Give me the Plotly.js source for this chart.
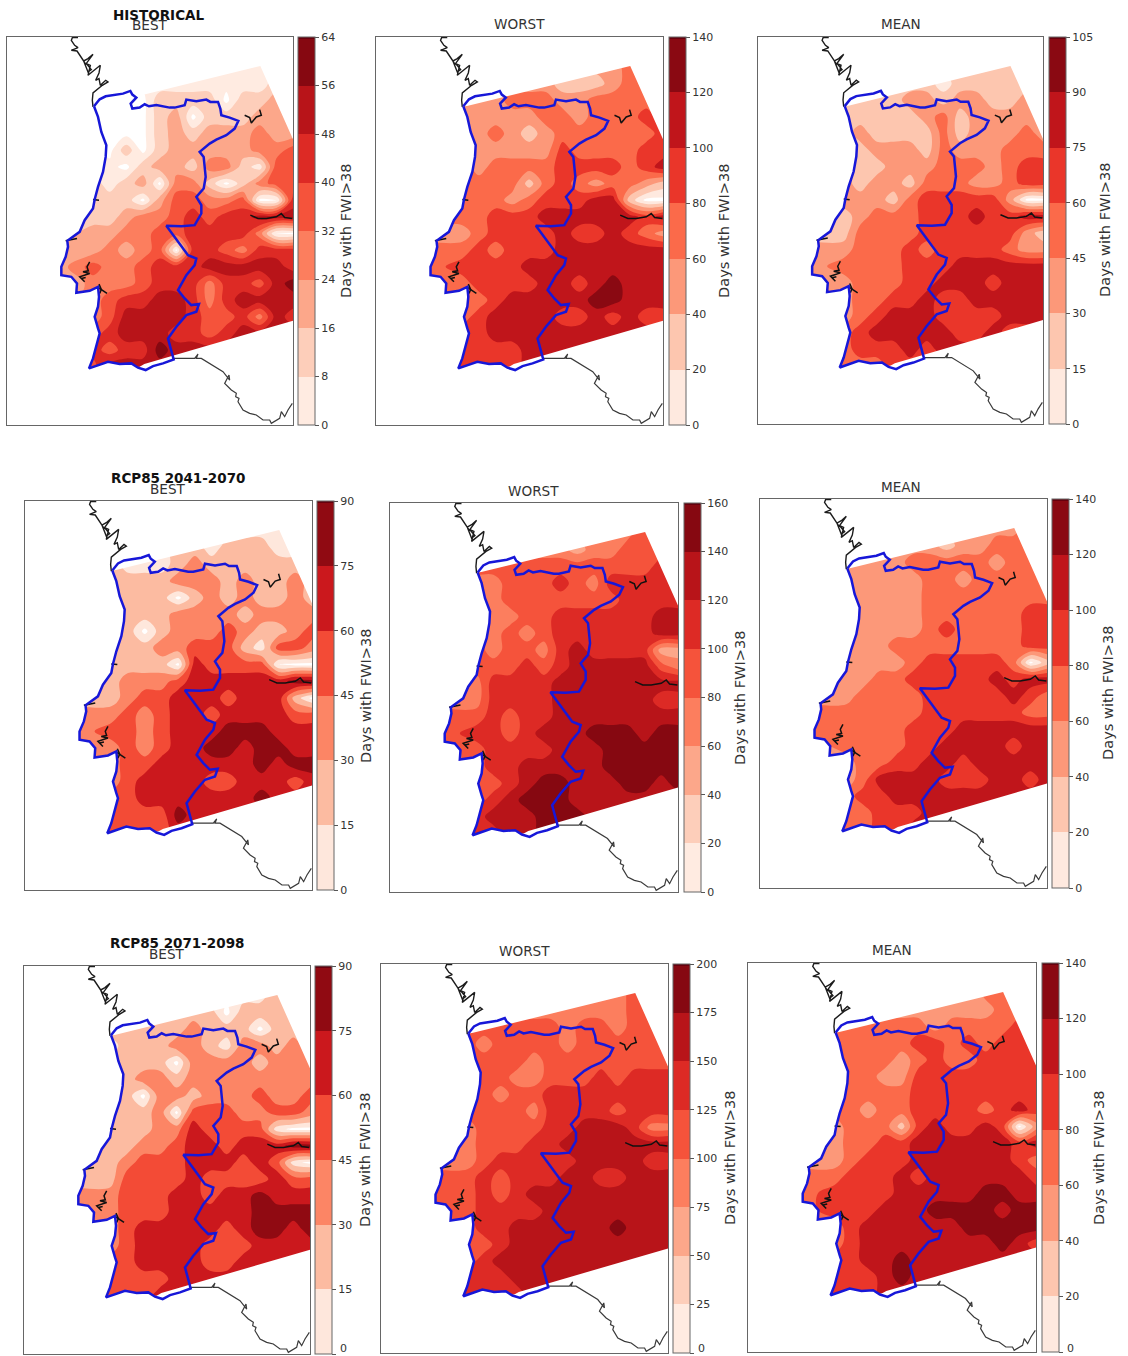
<!DOCTYPE html>
<html><head><meta charset="utf-8">
<script src="https://cdn.plot.ly/plotly-3.0.1.min.js"></script>
<style>html,body{margin:0;padding:0;background:#fff;overflow:hidden}#c{width:1128px;height:1356px}</style></head>
<body><div id="c"></div>
<script>
// map grid (map units)
const xGrid=[180,280,330,380,430,480,530,580,630,680,730,780,830,880];
const yGrid=[190,250,300,350,400,450,500,550,600,650,700,750,800,850,900,950,1000,1050,1100];

const histBest=[
[4,4,4,4,4,4,4,4,4,4,4,4,12,12],
[4,4,4,4,4,4,4,4,4,4,4,4,12,12],
[0,0,0,0,0,12,12,12,12,0,12,12,20,20],
[0,0,0,0,0,12,20,0,12,12,12,20,20,20],
[0,0,0,0,0,12,20,12,20,20,20,28,20,20],
[4,4,0,12,0,12,20,20,20,20,20,28,28,36],
[4,4,4,0,12,20,20,12,28,28,12,4,36,36],
[12,12,4,12,20,0,28,28,12,0,12,28,36,36],
[12,12,12,12,0,20,36,36,28,28,36,0,0,44],
[12,12,12,20,28,28,36,44,36,44,44,52,52,52],
[12,20,20,28,28,36,36,44,44,44,44,28,0,0],
[20,20,28,20,28,36,0,44,44,36,28,44,44,44],
[20,36,28,28,36,44,44,44,52,52,52,52,52,44],
[12,28,28,28,36,44,44,44,28,44,44,36,52,60],
[20,28,36,44,44,52,52,44,28,44,52,52,52,52],
[28,28,36,52,52,52,52,44,36,36,44,28,52,44],
[28,36,44,52,52,52,44,44,36,44,52,52,52,52],
[36,44,36,44,44,60,52,52,52,52,52,52,52,52],
[36,36,52,52,52,52,52,52,52,52,52,52,52,52]];
const histWorst=[
[50,50,50,50,50,50,50,50,50,50,50,70,70,70],
[50,50,50,50,50,50,50,30,30,30,50,70,70,70],
[50,50,50,50,70,70,70,50,50,70,70,70,70,70],
[50,50,50,50,50,50,70,70,50,70,70,70,90,70],
[50,50,50,70,50,30,50,70,70,70,70,70,70,90],
[50,50,50,50,50,50,50,90,70,70,70,70,90,90],
[50,70,50,70,70,70,70,90,90,90,90,70,90,110],
[70,70,70,70,70,30,70,90,70,50,70,70,50,30],
[70,70,70,70,50,70,90,90,90,110,110,30,0,0],
[70,70,70,90,90,90,110,110,110,110,110,110,90,110],
[50,50,70,90,90,90,90,110,90,90,110,90,70,50],
[70,70,90,70,90,90,90,110,110,110,110,110,110,110],
[70,90,90,90,90,110,110,110,110,110,110,110,110,110],
[50,70,90,90,90,90,110,110,90,110,130,110,110,110],
[70,70,70,90,110,110,110,110,110,130,130,110,110,110],
[70,70,90,110,110,110,110,90,90,110,90,110,90,90],
[70,90,90,110,110,110,110,110,110,110,110,110,110,110],
[70,90,90,90,90,110,110,110,110,110,110,110,110,110],
[70,90,90,90,90,110,110,110,110,110,110,110,110,110]];
const histMean=[
[22,22,22,22,22,22,22,22,22,22,22,22,22,22],
[22,22,22,22,22,22,22,8,22,22,22,22,22,22],
[22,22,22,22,22,38,38,22,38,38,22,22,38,38],
[22,22,22,22,22,22,38,52,22,38,38,38,38,38],
[22,22,38,22,22,22,22,52,22,38,38,38,52,38],
[22,22,22,38,38,38,22,52,38,38,38,52,52,52],
[22,38,22,22,38,38,38,52,52,52,38,52,68,68],
[22,38,22,38,38,22,52,52,52,38,38,52,68,68],
[22,38,38,38,22,52,68,68,68,68,68,38,0,0],
[22,22,38,52,52,52,68,68,68,82,68,68,82,82],
[22,22,52,52,52,52,68,68,68,68,68,68,38,22],
[38,38,52,52,52,68,52,68,68,68,68,52,38,38],
[38,52,52,52,52,68,68,68,82,82,82,82,82,82],
[22,38,52,52,52,68,68,82,82,82,68,82,82,82],
[38,38,52,52,68,68,82,68,68,82,82,82,82,82],
[38,38,52,68,82,82,82,68,68,68,68,82,82,82],
[52,52,68,82,82,82,82,82,68,68,82,68,68,68],
[52,52,68,68,68,82,68,82,82,82,82,82,82,82],
[52,52,52,52,68,68,68,68,68,82,82,82,82,82]];

const rcp41Best=[
[8,8,8,8,8,8,8,8,8,8,8,8,8,22],
[8,8,8,8,8,22,22,8,22,22,22,8,8,22],
[22,22,8,8,8,22,38,22,22,22,22,22,22,22],
[22,22,22,22,22,38,38,38,22,38,22,22,38,22],
[22,22,22,22,22,0,22,38,22,38,22,22,38,22],
[22,22,22,22,22,38,38,38,38,22,38,38,38,38],
[22,22,22,0,22,38,38,38,52,38,22,22,38,52],
[22,22,22,22,38,38,52,52,52,22,8,52,52,38],
[22,22,22,22,22,0,68,52,52,52,52,0,0,0],
[22,22,38,38,38,52,68,68,68,68,68,68,82,82],
[22,22,38,52,52,68,68,68,52,68,68,68,22,0],
[38,38,52,38,52,68,68,52,68,68,68,68,52,52],
[38,52,52,38,52,68,68,68,82,82,82,68,68,68],
[22,38,52,38,52,68,68,82,82,68,82,82,68,68],
[38,38,52,52,68,68,68,68,68,68,82,68,82,82],
[38,38,52,68,68,68,68,52,52,68,68,68,52,68],
[52,52,52,68,68,68,68,68,68,68,82,68,68,68],
[52,52,52,52,52,82,68,68,68,68,68,68,68,68],
[52,52,52,52,52,68,68,68,68,68,68,68,68,68]];
const rcp41Worst=[
[70,70,70,70,70,70,70,70,70,70,70,90,90,90],
[70,70,70,70,70,70,70,50,70,70,90,90,90,90],
[90,90,90,90,90,90,90,90,90,90,90,90,110,110],
[70,70,70,90,90,90,110,90,70,110,110,110,110,110],
[70,70,70,90,90,90,90,90,90,90,110,110,110,110],
[70,70,70,70,90,90,110,110,110,110,110,110,130,130],
[70,90,70,90,70,90,110,110,110,110,110,110,130,130],
[90,90,70,90,90,70,110,130,110,110,110,110,50,50],
[90,90,90,90,110,90,110,130,130,130,130,130,90,70],
[70,70,110,110,110,110,130,130,130,130,130,130,130,130],
[70,70,110,110,110,110,130,130,130,130,130,130,110,110],
[90,90,110,90,110,110,130,130,130,130,130,130,130,130],
[90,110,110,90,110,130,130,130,150,150,150,130,150,150],
[70,90,110,110,110,110,130,130,130,150,150,150,150,150],
[70,90,110,110,130,130,130,130,130,150,150,150,150,150],
[90,90,90,110,130,150,150,130,130,130,150,150,130,150],
[90,90,110,130,150,150,150,130,130,130,130,130,130,130],
[110,110,130,130,130,150,150,150,130,130,130,130,130,130],
[110,110,110,130,130,150,150,130,130,130,130,130,130,130]];
const rcp41Mean=[
[50,50,50,50,50,50,50,50,50,30,50,50,70,70],
[50,50,50,50,50,50,50,30,50,50,70,70,70,70],
[50,50,50,50,50,70,70,70,70,70,50,70,70,70],
[50,50,50,50,50,50,70,70,50,70,70,70,70,70],
[50,50,50,50,50,50,70,70,70,70,70,70,70,70],
[50,50,50,50,50,50,70,70,70,70,70,70,90,90],
[50,50,50,50,50,50,70,90,70,70,70,70,90,90],
[50,50,50,50,70,70,70,70,70,70,70,70,90,90],
[50,50,50,50,50,70,90,90,90,90,90,70,0,30],
[50,50,50,70,70,90,90,90,90,90,110,90,110,110],
[50,50,70,70,70,70,90,90,90,90,90,110,90,70],
[70,70,70,70,70,70,90,90,90,90,90,90,70,70],
[70,70,70,70,70,90,90,90,110,110,110,110,110,110],
[50,70,70,70,70,90,90,110,110,110,110,90,110,110],
[50,50,70,70,90,90,110,110,90,110,110,110,110,110],
[50,50,70,110,110,110,110,90,90,90,110,110,90,110],
[70,70,90,90,110,110,110,110,110,110,110,110,110,110],
[70,70,70,90,90,90,110,110,110,110,110,110,110,110],
[70,70,70,90,90,110,110,110,110,110,110,110,110,110]];

const rcp71Best=[
[8,8,8,8,8,8,8,8,8,8,8,22,22,22],
[8,8,8,8,8,22,22,22,0,22,22,22,22,22],
[22,22,22,22,22,22,38,22,22,22,0,22,22,22],
[8,8,22,22,22,38,38,22,8,38,38,22,38,22],
[22,22,22,22,22,0,38,38,38,38,22,38,38,38],
[22,22,22,38,38,22,38,38,38,38,38,38,38,38],
[22,22,22,0,38,38,22,38,38,38,52,38,38,52],
[22,22,22,22,38,0,52,52,52,38,38,52,52,38],
[22,22,22,22,38,38,68,52,52,52,52,8,0,0],
[22,22,22,38,38,52,68,68,52,68,68,68,82,82],
[22,22,38,52,52,52,68,68,68,52,68,52,8,0],
[22,22,52,52,52,52,68,52,52,52,52,68,52,52],
[38,38,52,52,52,68,68,52,68,68,82,68,68,68],
[38,38,52,52,52,68,68,68,68,68,82,82,82,82],
[38,38,52,68,68,68,68,68,52,68,82,82,68,82],
[38,38,52,68,68,68,68,52,52,52,68,68,68,68],
[52,52,52,68,68,68,68,52,52,68,68,68,68,68],
[52,52,52,52,52,68,68,68,68,68,68,68,68,68],
[52,52,52,52,68,68,68,68,68,68,68,68,68,68]];
const rcp71Worst=[
[88,88,88,88,88,88,88,88,88,88,88,112,112,112],
[88,88,88,88,88,88,88,88,88,88,88,112,112,112],
[112,112,112,112,112,112,112,88,112,112,88,112,112,112],
[112,112,88,112,112,112,112,88,112,112,112,112,112,112],
[112,112,112,112,112,88,112,112,112,112,112,112,112,112],
[112,112,112,112,88,88,112,112,112,138,112,138,138,138],
[112,112,112,88,112,112,138,138,138,138,138,138,138,138],
[112,112,112,112,112,88,138,138,138,138,112,138,138,138],
[88,88,112,112,112,112,138,138,162,162,162,138,88,88],
[88,88,112,112,112,138,138,162,162,162,162,162,162,162],
[88,88,112,138,138,138,138,138,162,162,162,162,138,138],
[112,112,138,112,138,138,138,162,162,138,138,162,162,162],
[112,112,138,112,138,162,162,162,162,162,162,162,162,162],
[88,112,138,138,138,138,162,162,162,162,162,162,162,162],
[88,112,138,138,162,162,162,162,162,162,188,162,162,162],
[88,112,112,138,162,162,162,162,162,162,162,162,162,162],
[112,112,138,162,162,162,162,162,162,162,162,162,162,162],
[138,138,138,138,162,162,162,162,162,162,162,162,162,162],
[138,138,138,138,138,162,162,162,162,162,162,162,162,162]];
const rcp71Mean=[
[50,50,50,50,50,50,50,50,50,50,70,70,70,70],
[50,50,50,50,50,50,50,50,50,50,50,70,70,70],
[70,70,70,70,70,70,70,50,70,70,70,70,90,90],
[70,70,70,70,70,70,90,90,70,90,70,90,90,90],
[70,70,70,70,70,50,70,90,70,70,90,90,90,90],
[70,70,70,70,50,50,90,90,90,90,90,90,90,90],
[70,70,70,70,70,70,90,90,90,90,90,90,90,90],
[70,70,70,50,70,70,90,90,90,90,70,90,110,90],
[50,50,70,70,70,30,90,110,90,90,110,90,0,50],
[50,50,70,70,90,90,110,110,110,110,110,110,90,110],
[50,50,70,90,90,90,110,110,110,110,110,110,90,70],
[70,70,90,90,90,110,90,110,110,110,110,110,110,90],
[70,90,90,90,90,110,110,110,110,110,130,130,110,110],
[70,90,90,90,110,110,110,130,130,130,130,110,130,130],
[70,70,90,110,110,110,110,110,110,130,130,130,130,130],
[70,70,90,110,110,110,110,110,110,110,110,130,110,90],
[90,90,90,110,110,130,110,110,110,110,110,110,110,110],
[90,90,90,90,110,130,110,110,110,110,110,110,110,110],
[90,90,90,90,110,110,110,110,110,110,110,110,110,110]];

// panel definitions
const panelZ=[histBest,histWorst,histMean,rcp41Best,rcp41Worst,rcp41Mean,rcp71Best,rcp71Worst,rcp71Mean];
const panelMax=[64,140,105,90,160,140,90,200,140];
const panelStep=[8,20,15,15,20,20,15,25,20];
const panelLeft=[7,376,758,25,390,760,24,381,748];
const panelRight=[293,663,1043,312,678,1047,310,668,1036];
const panelTop=[37,37,37,501,503,499,966,964,963];
const panelBottom=[425,425,424,890,892,888,1354,1353,1352];
const cbarLeft=[298,669,1049,317,684,1052,315,673,1042];
const cbarTitleX=[346,724,1104,365,739,1107,364,729,1098];
const cbarTitleY=[231,231,230,696,698,693,1160,1158,1158];
const cbarTitle='Days with FWI>38';

const titles=['HISTORICAL','BEST','WORST','MEAN','RCP85 2041-2070','BEST','WORST','MEAN','RCP85 2071-2098','BEST','WORST','MEAN'];
const titleX=[159,150,519,901,178,168,533,901,177,167,524,892];
const titleY=[15,25,24,24,478,489,491,487,943,954,951,950];
const titleBold=[1,0,0,0,1,0,0,0,1,0,0,0];

// border outline in map units
const neX=[283,300,318,345,370,392,398,410,403,393,398,420,435,448,470,490,510,525,555,560,590,620,632,655,662,665,690,716,705,680,650,630,600,612,615,618,612,590,605,605,585,545,500,520,545,565,590,585,560,545,535,555,575,598,590,560,530,505,515,522];
const neY=[318,297,288,285,280,272,283,292,300,310,325,322,312,318,314,318,322,322,315,298,303,298,305,305,325,345,352,362,385,405,418,430,455,470,500,530,565,590,615,640,675,678,677,705,740,765,775,795,825,850,870,895,915,912,935,945,980,1015,1050,1078];
const soX=[522,490,460,438,415,395,360,325,290,268];
const soY=[1078,1090,1098,1110,1103,1090,1092,1085,1097,1105];
const weX=[268,280,290,300,295,285,295,298,295,270,230,232,215,185,185,198,205,203,240,255,280,285,295,310,318,320,305,295,283];
const weY=[1105,1075,1040,1000,985,950,920,890,860,872,878,850,830,825,800,770,740,722,695,660,625,598,560,515,470,435,395,350,318];
// data window of the model field
const fieldTopX=[880,782,294];
const fieldTopY=[417,197,317];
const fieldBotX=[434,880];
const fieldBotY=[1092,962];
// coast and rivers
const coastNX=[280,278,280,292,308,325,318,302,298,288,298,302,285,265,272,260,275,265,252,258,280,265,252,240,232,215,235,225,215,218,235];
const coastNY=[320,300,278,268,255,245,240,255,235,240,218,195,208,225,195,190,208,215,182,192,162,175,182,162,152,150,142,135,120,112,112];
const coastSX=[522,555,585,595,590,605,630,670,690,688,675,695,710,708,718,715,730,750,770,790,810,815,840,845,855,865,878];
const coastSY=[1075,1075,1075,1062,1075,1075,1090,1115,1140,1125,1150,1170,1180,1190,1195,1205,1230,1240,1245,1260,1260,1270,1255,1235,1250,1230,1210];
const riverX=[270,262,266,250,270,240,255,245,258,null,295,322,null,298,305,300,null,735,750,755,770,785,780,null,752,775,800,830,845,855,878,null,198,232,null,280,298];
const riverY=[785,800,812,815,820,830,845,835,832,null,862,880,null,852,868,880,null,345,352,368,350,345,328,null,645,655,655,650,640,652,655,null,722,715,null,598,600];

const reds=[[0,'#fff5f0'],[.125,'#fee0d2'],[.25,'#fcbba1'],[.375,'#fc9272'],[.5,'#fb6a4a'],[.625,'#ef3b2c'],[.75,'#cb181d'],[.875,'#a50f15'],[1,'#67000d']];
const unfilled=[[0,'rgba(255,255,255,0)'],[.5,'rgba(255,255,255,1)'],[1,'rgba(255,255,255,1)']];

const W=1128,H=1356;
const FF='DejaVu Sans, sans-serif';
const maskX=[22,880,880].concat(fieldTopX,weX.slice().reverse(),soX.slice().reverse().slice(0,6),fieldBotX,[880,22,22]);
const maskY=[110,110,417].concat(fieldTopY,weY.slice().reverse(),soY.slice().reverse().slice(0,6),fieldBotY,[1275,1275,110]);

const traces=[],layout={width:W,height:H,margin:{l:0,r:0,t:0,b:0},paper_bgcolor:'#fff',plot_bgcolor:'#fff',showlegend:false,annotations:[],font:{family:FF,color:'#333'}};
panelZ.forEach((z,i)=>{
  const n=i===0?'':String(i+1);
  const xa='x'+n,ya='y'+n;
  const ticks=[];for(let t=0;t<=panelMax[i];t+=panelStep[i])ticks.push(t);
  traces.push({type:'contour',x:xGrid,y:yGrid,z:z,xaxis:xa,yaxis:ya,autocontour:false,
    contours:{start:0,end:panelMax[i],size:panelStep[i],coloring:'fill',showlines:false},
    line:{width:0},colorscale:reds,zauto:false,zmin:0,zmax:panelMax[i],hoverinfo:'skip',
    colorbar:{x:cbarLeft[i]/W,xanchor:'left',xpad:0,ypad:0,yref:'paper',y:1-panelTop[i]/H,yanchor:'top',
      lenmode:'pixels',len:panelBottom[i]-panelTop[i],thicknessmode:'pixels',thickness:17,
      outlinewidth:1,outlinecolor:'#666',ticks:'outside',ticklen:4,tickcolor:'#555',tickwidth:1,
      tickmode:'array',tickvals:ticks,ticktext:ticks.map(String),tickfont:{size:11,color:'#333',family:FF}}});
  // grid cells at zero stay unfilled, as in the reference: negated field, filled above the threshold only
  const thr=panelStep[i]*0.25;
  const big=panelMax[i]*2;
  traces.push({type:'contour',x:xGrid,y:yGrid,z:z.map(r=>r.map(v=>-v)),xaxis:xa,yaxis:ya,autocontour:false,showscale:false,
    contours:{start:-thr,end:-thr+big,size:big,coloring:'fill',showlines:false},
    line:{width:0},colorscale:unfilled,hoverinfo:'skip'});
  traces.push({type:'scatter',mode:'lines',x:maskX,y:maskY,fill:'toself',fillcolor:'#fff',line:{width:0,color:'#fff'},xaxis:xa,yaxis:ya,hoverinfo:'skip'});
  traces.push({type:'scatter',mode:'lines',x:coastNX,y:coastNY,line:{color:'#1c1c1c',width:1.4},xaxis:xa,yaxis:ya,hoverinfo:'skip'});
  traces.push({type:'scatter',mode:'lines',x:coastSX,y:coastSY,line:{color:'#3a3a3a',width:1.2},xaxis:xa,yaxis:ya,hoverinfo:'skip'});
  traces.push({type:'scatter',mode:'lines',x:riverX,y:riverY,line:{color:'#111',width:1.5},xaxis:xa,yaxis:ya,hoverinfo:'skip'});
  traces.push({type:'scatter',mode:'lines',x:neX.concat(soX,weX),y:neY.concat(soY,weY),line:{color:'#1717d8',width:2.5},xaxis:xa,yaxis:ya,hoverinfo:'skip'});
  const ax={showgrid:false,zeroline:false,showticklabels:false,ticks:'',showline:true,mirror:true,linecolor:'#666',linewidth:1.3,fixedrange:true};
  layout['xaxis'+n]=Object.assign({},ax,{domain:[panelLeft[i]/W,panelRight[i]/W],range:[22,880],anchor:ya});
  layout['yaxis'+n]=Object.assign({},ax,{domain:[1-panelBottom[i]/H,1-panelTop[i]/H],range:[1275,110],anchor:xa});
  layout.annotations.push({xref:'paper',yref:'paper',x:cbarTitleX[i]/W,y:1-cbarTitleY[i]/H,xanchor:'center',yanchor:'middle',textangle:-90,showarrow:false,
    text:cbarTitle,font:{size:14.6,color:'#333',family:FF}});
  if(i>=6){layout.annotations.push({xref:'paper',yref:'paper',x:(cbarLeft[i]+23)/W,y:1-1348/H,xanchor:'left',yanchor:'middle',showarrow:false,text:'0',font:{size:11,color:'#333',family:FF}});}
});
titles.forEach((t,i)=>{
  layout.annotations.push({xref:'paper',yref:'paper',x:titleX[i]/W,y:1-titleY[i]/H,xanchor:'center',yanchor:'middle',showarrow:false,
    text:titleBold[i]?'<b>'+t+'</b>':t,font:{size:titleBold[i]?13.5:13.6,color:titleBold[i]?'#111':'#333',family:FF}});
});
Plotly.newPlot('c',traces,layout,{displayModeBar:false,staticPlot:true});
</script></body></html>
